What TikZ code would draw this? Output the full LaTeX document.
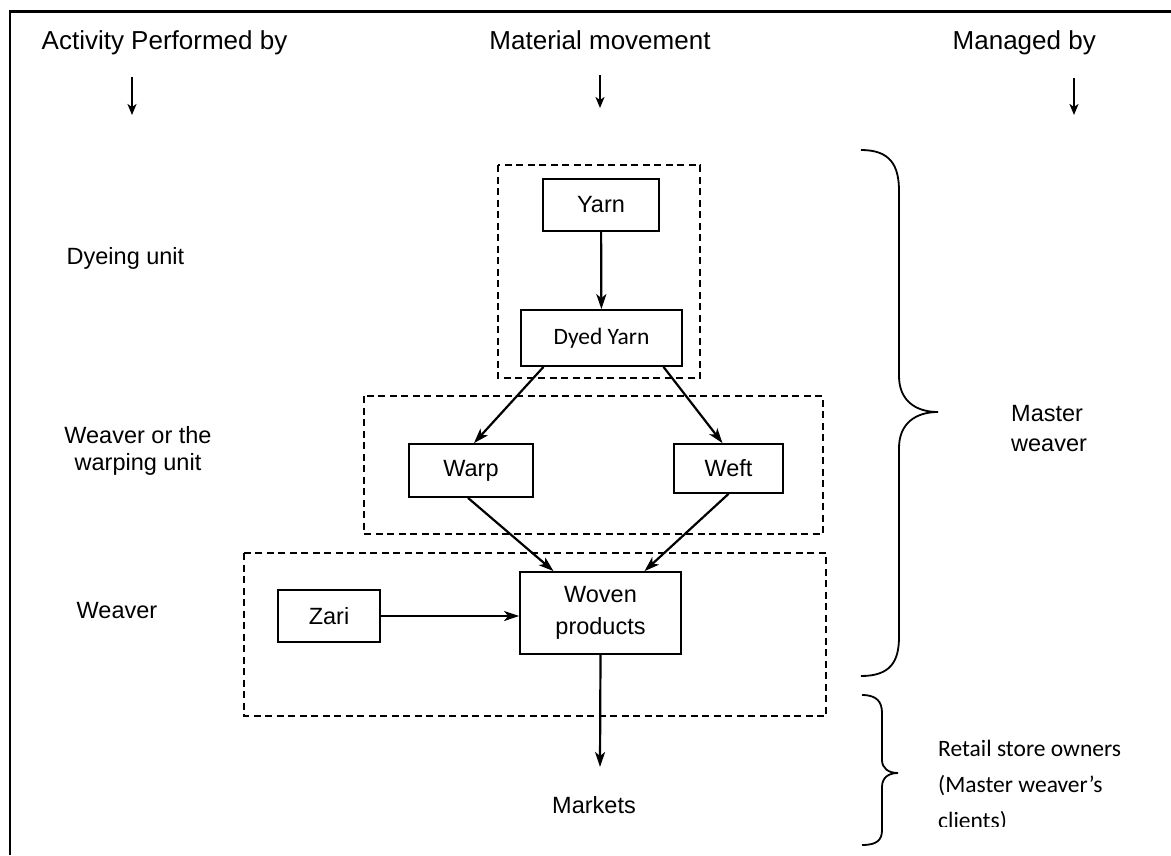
\documentclass[tikz,border=0pt]{standalone}
\usepackage{fontspec}
\setmainfont{Liberation Sans}
\newfontfamily\calib{Carlito}
\usetikzlibrary{arrows.meta,calc}
\begin{document}
\begin{tikzpicture}[x=1pt,y=-1pt,
  box/.style={draw,line width=1.8pt,inner sep=0pt,align=center,font=\fontsize{23.5}{30}\selectfont},
  grp/.style={draw,line width=1.5pt,dash pattern=on 7pt off 4.5pt},
  arr/.style={line width=2.2pt,-{Stealth[length=15pt,width=10pt,inset=4pt]}},
  harr/.style={line width=2pt,-{Stealth[length=11pt,width=9pt,inset=3pt]}},
  lbl/.style={inner sep=0pt,font=\fontsize{23.5}{29}\selectfont},
  hdr/.style={inner sep=0pt,anchor=base,font=\fontsize{26}{30}\selectfont},
  brace/.style={line width=1.8pt}
]
\useasboundingbox (0,0) rectangle (1171,855);
\fill[white] (0,0) rectangle (1171,855);
\draw[line width=2.4pt] (10,855) -- (10,11.5) -- (1171,11.5);

% headers
\node[hdr] (h1) at (164.5,49) {Activity Performed by};
\node[hdr] (h2) at (600,49) {Material movement};
\node[hdr,anchor=base east] (h3) at (1096,49) {Managed by};
\coordinate (a1s) at (132,77);  \coordinate (a1e) at (132,115);
\coordinate (a2s) at (600,75);  \coordinate (a2e) at (600,108);
\coordinate (a3s) at (1074,78); \coordinate (a3e) at (1074,115);
\draw[harr] (a1s) -- (a1e);
\draw[harr] (a2s) -- (a2e);
\draw[harr] (a3s) -- (a3e);

% dashed groups
\draw[grp] (498,165) rectangle (700,378);
\draw[grp] (364,396) rectangle (823,534);
\draw[grp] (244,553) rectangle (826,716);

% boxes
\node[box,minimum width=116pt,minimum height=52pt] (yarn) at (601,205) {Yarn};
\node[box,minimum width=161pt,minimum height=56pt,font=\calib\fontsize{23.5}{28}\selectfont] (dyed) at (601.5,338) {Dyed Yarn};
\node[box,minimum width=124pt,minimum height=53pt] (warp) at (471,470.5) {Warp};
\node[box,minimum width=109pt,minimum height=49pt] (weft) at (728.5,468.5) {Weft};
\node[box,minimum width=161pt,minimum height=82pt,font=\fontsize{23.5}{32}\selectfont] (woven) at (600.5,613) {Woven\\products};
\node[box,minimum width=102pt,minimum height=52pt] (zari) at (329,616) {Zari};
\node[lbl,anchor=base] (markets) at (594,813) {Markets};
\coordinate (mk) at (600,767);

% connectors
\draw[arr] (yarn) -- (dyed);
\draw[arr] ([xshift=-58pt]dyed.south) -- ([xshift=3pt]warp.north);
\draw[arr] ([xshift=62pt]dyed.south) -- ([xshift=-6pt]weft.north);
\draw[arr] ([xshift=-3pt]warp.south) -- ([xshift=-47pt]woven.north);
\draw[arr] (weft.south) -- ([xshift=44pt]woven.north);
\draw[arr] (zari.east) -- (zari.east -| woven.west);
\draw[arr] (woven.south) -- (mk);

% left labels
\node[lbl,anchor=base] (dye) at (125.5,264) {Dyeing unit};
\begin{scope}
\clip (20,400) rectangle (300,474);
\node[lbl,anchor=base,align=center,font=\fontsize{23.5}{27}\selectfont] (wv1) at (138,470) {Weaver or the\\warping unit};
\end{scope}
\node[lbl,anchor=base] (wv2) at (117,618) {Weaver};

% braces
\draw[brace] (861,150) .. controls (890,150) and (899,165) .. (899,191) -- (899,376)
  .. controls (899,400) and (915,412) .. (938,412)
  .. controls (915,412) and (899,424) .. (899,448) -- (899,637)
  .. controls (899,662) and (890,676) .. (861,676);
\draw[brace] (862,695) .. controls (877,695) and (882,702) .. (882,713) -- (882,760)
  .. controls (882,768) and (888,773) .. (898,773)
  .. controls (888,773) and (882,778) .. (882,787) -- (882,830)
  .. controls (882,840) and (877,845) .. (862,845);

% right labels
\node[lbl,anchor=base west,align=left,font=\fontsize{23.5}{30}\selectfont] (mw) at (1011,451) {Master\\weaver};
\begin{scope}
\clip (900,700) rectangle (1171,826);
\node[lbl,anchor=base west,align=left,font=\calib\fontsize{23.5}{36}\selectfont] (rs) at (938,828) {Retail store owners\\(Master weaver’s\\clients)};
\end{scope}
\end{tikzpicture}
\end{document}
